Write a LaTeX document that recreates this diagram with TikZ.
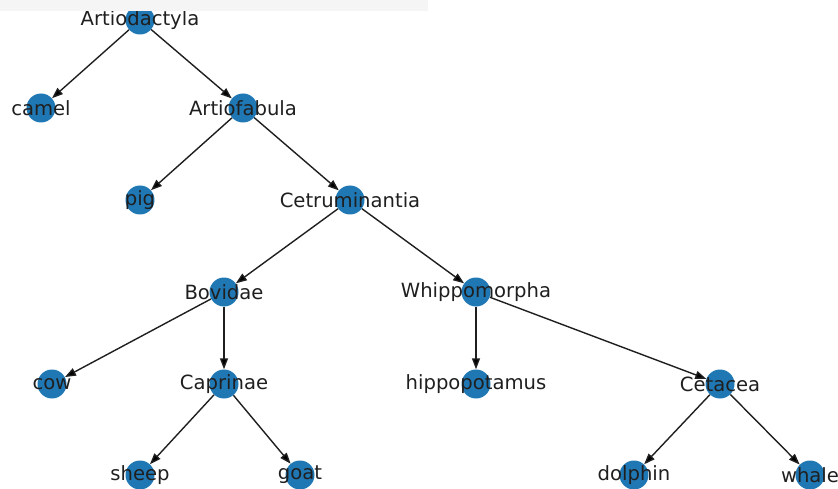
\documentclass[tikz,border=0pt]{standalone}
\usepackage{fontspec}
\setmainfont{DejaVu Sans}
\usetikzlibrary{arrows.meta,backgrounds}
\definecolor{nxblue}{HTML}{1F77B4}
\tikzstyle{taxon}=[circle, fill=nxblue, inner sep=0pt, minimum size=29pt]
\tikzstyle{taxonname}=[text=black!88, font=\fontsize{19.6}{23}\selectfont, inner sep=0pt]
\tikzstyle{arr}=[draw=black!88, line width=1.4pt, -{Triangle[length=11pt,width=8pt]}]
\newcommand{\taxon}{\node[taxon]}

\begin{document}
\begin{tikzpicture}[x=1pt,y=-1pt]
            \useasboundingbox (0,0) rectangle (838,489);
            \taxon (artiodactyla) at (140,20) [label={[taxonname]center:Artiodactyla}] {};
            \taxon (camel) at (41,108) [label={[taxonname]center:camel}] {};
            \taxon (artiofabula) at (243,108) [label={[taxonname]center:Artiofabula}] {};
            \taxon (pig) at (140,200) [label={[taxonname]center:pig}] {};
            \taxon (cetruminantia) at (350,200) [label={[taxonname]center:Cetruminantia}] {};
            \taxon (bovidae) at (224,292) [label={[taxonname]center:Bovidae}] {};
            \taxon (whippomorpha) at (476,292) [label={[taxonname]center:Whippomorpha}] {};
            \taxon (cow) at (52,384) [label={[taxonname]center:cow}] {};
            \taxon (caprinae) at (224,384) [label={[taxonname]center:Caprinae}] {};
            \taxon (hippopotamus) at (476,384) [label={[taxonname]center:hippopotamus}] {};
            \taxon (cetacea) at (720,384) [label={[taxonname]center:Cetacea}] {};
            \taxon (sheep) at (140,475) [label={[taxonname]center:sheep}] {};
            \taxon (goat) at (300,475) [label={[taxonname]center:goat}] {};
            \taxon (dolphin) at (634,475) [label={[taxonname]center:dolphin}] {};
            \taxon (whale) at (810,475) [label={[taxonname]center:whale}] {};
            \begin{scope}[on background layer]
            \path[arr]
                (artiodactyla) edge (camel) edge (artiofabula)
                (artiofabula) edge (pig) edge (cetruminantia)
                (cetruminantia) edge (bovidae) edge (whippomorpha)
                (bovidae) edge (cow) edge (caprinae)
                (caprinae) edge (sheep) edge (goat)
                (whippomorpha) edge (hippopotamus) edge (cetacea)
                (cetacea) edge (dolphin) edge (whale)
            ;
            \end{scope}
            % grey strip along the top
            \fill[black!4] (0,0) rectangle (428,11);
        \end{tikzpicture}
\end{document}
